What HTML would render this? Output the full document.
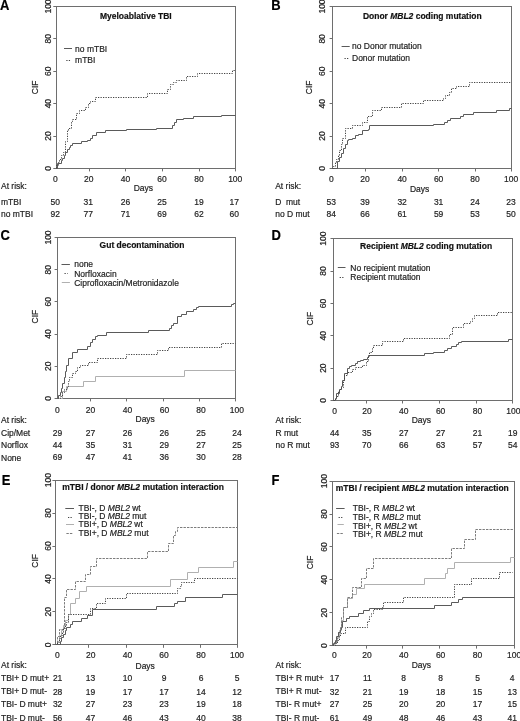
<!DOCTYPE html>
<html><head><meta charset="utf-8"><title>CIF figure</title>
<style>
html,body{margin:0;padding:0;background:#fff;overflow:hidden;}
svg{display:block;}
#fig{width:520px;height:721px;filter:grayscale(1);}
svg text{font-family:"Liberation Sans",sans-serif;font-size:8.5px;fill:#222222;stroke:#222222;stroke-width:0.18px;}
</style></head>
<body>
<div id="fig">
<svg width="520" height="721" viewBox="0 0 520 721">
<rect width="520" height="721" fill="#fff"/>
<text transform="translate(-0.1 9.6) scale(1 1.09)" font-weight="bold" style="font-size:13px;fill:#000;stroke:#000">A</text>
<rect x="56.5" y="6.5" width="179" height="162" fill="none" stroke="#6e6e6e" stroke-width="1"/>
<line x1="53.3" y1="168.5" x2="56.3" y2="168.5" stroke="#6e6e6e" stroke-width="1"/>
<text transform="translate(47.5 168.4) rotate(-90) scale(1 1.15)" text-anchor="middle" y="3.04">0</text>
<line x1="53.3" y1="136.5" x2="56.3" y2="136.5" stroke="#6e6e6e" stroke-width="1"/>
<text transform="translate(47.5 136.02) rotate(-90) scale(1 1.15)" text-anchor="middle" y="3.04">20</text>
<line x1="53.3" y1="103.5" x2="56.3" y2="103.5" stroke="#6e6e6e" stroke-width="1"/>
<text transform="translate(47.5 103.64) rotate(-90) scale(1 1.15)" text-anchor="middle" y="3.04">40</text>
<line x1="53.3" y1="71.5" x2="56.3" y2="71.5" stroke="#6e6e6e" stroke-width="1"/>
<text transform="translate(47.5 71.26) rotate(-90) scale(1 1.15)" text-anchor="middle" y="3.04">60</text>
<line x1="53.3" y1="38.5" x2="56.3" y2="38.5" stroke="#6e6e6e" stroke-width="1"/>
<text transform="translate(47.5 38.88) rotate(-90) scale(1 1.15)" text-anchor="middle" y="3.04">80</text>
<line x1="53.3" y1="6.5" x2="56.3" y2="6.5" stroke="#6e6e6e" stroke-width="1"/>
<text transform="translate(47.5 6.5) rotate(-90) scale(1 1.15)" text-anchor="middle" y="3.04">100</text>
<text transform="translate(34.9 87.3) rotate(-90) scale(1 1.15)" text-anchor="middle" y="3.1">CIF</text>
<line x1="89.5" y1="168.4" x2="89.5" y2="171.4" stroke="#6e6e6e" stroke-width="1"/>
<line x1="125.5" y1="168.4" x2="125.5" y2="171.4" stroke="#6e6e6e" stroke-width="1"/>
<line x1="162.5" y1="168.4" x2="162.5" y2="171.4" stroke="#6e6e6e" stroke-width="1"/>
<line x1="199.5" y1="168.4" x2="199.5" y2="171.4" stroke="#6e6e6e" stroke-width="1"/>
<line x1="235.5" y1="168.4" x2="235.5" y2="171.4" stroke="#6e6e6e" stroke-width="1"/>
<text transform="translate(55.4 182.34) scale(1 1.08)" text-anchor="middle">0</text>
<text transform="translate(88.7 182.34) scale(1 1.08)" text-anchor="middle">20</text>
<text transform="translate(125.4 182.34) scale(1 1.08)" text-anchor="middle">40</text>
<text transform="translate(162 182.34) scale(1 1.08)" text-anchor="middle">60</text>
<text transform="translate(198.9 182.34) scale(1 1.08)" text-anchor="middle">80</text>
<text transform="translate(235.2 182.34) scale(1 1.08)" text-anchor="middle">100</text>
<text transform="translate(143.4 190.8) scale(1 1.08)" text-anchor="middle">Days</text>
<text transform="translate(100 18.5) scale(1 1.08)" font-weight="bold" style="fill:#111;stroke:#111">Myeloablative TBI</text>
<line x1="64" y1="48.5" x2="72" y2="48.5" stroke="#5a5a5a" stroke-width="1"/>
<text transform="translate(75.1 51.8) scale(1 1.08)">no mTBI</text>
<line x1="66.3" y1="60.5" x2="70.3" y2="60.5" stroke="#444444" stroke-width="1" stroke-dasharray="1.25 1.25"/>
<text transform="translate(75.1 63.2) scale(1 1.08)">mTBI</text>
<path d="M56.5 168.5H57.5V163.5H61.5V160.5H62.5V158.5H64.5V155.5H65.5V152.5H67.5V149.5H69.5V147.5H70.5V145.5H72.5V143.5H81.5V141.5H87.5V140.5H90.5V138.5H92.5V135.5H96.5V132.5H105.5V130.5H126.5V129.5H156.5V128.5H172.5V125.5H174.5V122.5H176.5V119.5H183.5V118.5H193.5V116.5H221.5V115.5H235.5" fill="none" stroke="#5a5a5a" stroke-width="1"/>
<path d="M56.5 168.5H56.5V165.5H58.5V162.5H59.5V159.5H61.5V155.5H63.5V152.5H65.5V141.5H67.5V130.5H68.5V128.5H71.5V121.5H72.5V119.5H76.5V113.5H79.5V110.5H85.5V107.5H88.5V103.5H90.5V101.5H95.5V97.5H147.5V93.5H167.5V89.5H170.5V84.5H173.5V82.5H176.5V80.5H186.5V76.5H197.5V73.5H232.5V70.5H235.5" fill="none" stroke="#444444" stroke-width="1" stroke-dasharray="1.25 1.25"/>
<text transform="translate(1 188.5) scale(1 1.08)">At risk:</text>
<text transform="translate(1 205) scale(1 1.08)" xml:space="preserve">mTBI</text>
<text transform="translate(55.2 204.84) scale(1 1.08)" text-anchor="middle">50</text>
<text transform="translate(88.3 204.84) scale(1 1.08)" text-anchor="middle">31</text>
<text transform="translate(125.4 204.84) scale(1 1.08)" text-anchor="middle">26</text>
<text transform="translate(162 204.84) scale(1 1.08)" text-anchor="middle">25</text>
<text transform="translate(198.9 204.84) scale(1 1.08)" text-anchor="middle">19</text>
<text transform="translate(234.2 204.84) scale(1 1.08)" text-anchor="middle">17</text>
<text transform="translate(1 217) scale(1 1.08)" xml:space="preserve">no mTBI</text>
<text transform="translate(55.2 217.14) scale(1 1.08)" text-anchor="middle">92</text>
<text transform="translate(88.3 217.14) scale(1 1.08)" text-anchor="middle">77</text>
<text transform="translate(125.4 217.14) scale(1 1.08)" text-anchor="middle">71</text>
<text transform="translate(162 217.14) scale(1 1.08)" text-anchor="middle">69</text>
<text transform="translate(198.9 217.14) scale(1 1.08)" text-anchor="middle">62</text>
<text transform="translate(234.2 217.14) scale(1 1.08)" text-anchor="middle">60</text>
<text transform="translate(271.2 9.7) scale(1 1.09)" font-weight="bold" style="font-size:13px;fill:#000;stroke:#000">B</text>
<rect x="332.5" y="6.5" width="179" height="162" fill="none" stroke="#6e6e6e" stroke-width="1"/>
<line x1="329.6" y1="168.5" x2="332.6" y2="168.5" stroke="#6e6e6e" stroke-width="1"/>
<text transform="translate(321 168.5) rotate(-90) scale(1 1.15)" text-anchor="middle" y="3.04">0</text>
<line x1="329.6" y1="136.5" x2="332.6" y2="136.5" stroke="#6e6e6e" stroke-width="1"/>
<text transform="translate(321 136.1) rotate(-90) scale(1 1.15)" text-anchor="middle" y="3.04">20</text>
<line x1="329.6" y1="103.5" x2="332.6" y2="103.5" stroke="#6e6e6e" stroke-width="1"/>
<text transform="translate(321 103.7) rotate(-90) scale(1 1.15)" text-anchor="middle" y="3.04">40</text>
<line x1="329.6" y1="71.5" x2="332.6" y2="71.5" stroke="#6e6e6e" stroke-width="1"/>
<text transform="translate(321 71.3) rotate(-90) scale(1 1.15)" text-anchor="middle" y="3.04">60</text>
<line x1="329.6" y1="38.5" x2="332.6" y2="38.5" stroke="#6e6e6e" stroke-width="1"/>
<text transform="translate(321 38.9) rotate(-90) scale(1 1.15)" text-anchor="middle" y="3.04">80</text>
<line x1="329.6" y1="6.5" x2="332.6" y2="6.5" stroke="#6e6e6e" stroke-width="1"/>
<text transform="translate(321 6.5) rotate(-90) scale(1 1.15)" text-anchor="middle" y="3.04">100</text>
<text transform="translate(308.3 87.3) rotate(-90) scale(1 1.15)" text-anchor="middle" y="3.1">CIF</text>
<line x1="365.5" y1="168.5" x2="365.5" y2="171.5" stroke="#6e6e6e" stroke-width="1"/>
<line x1="402.5" y1="168.5" x2="402.5" y2="171.5" stroke="#6e6e6e" stroke-width="1"/>
<line x1="438.5" y1="168.5" x2="438.5" y2="171.5" stroke="#6e6e6e" stroke-width="1"/>
<line x1="475.5" y1="168.5" x2="475.5" y2="171.5" stroke="#6e6e6e" stroke-width="1"/>
<line x1="511.5" y1="168.5" x2="511.5" y2="171.5" stroke="#6e6e6e" stroke-width="1"/>
<text transform="translate(331.3 182.44) scale(1 1.08)" text-anchor="middle">0</text>
<text transform="translate(365 182.44) scale(1 1.08)" text-anchor="middle">20</text>
<text transform="translate(402.1 182.44) scale(1 1.08)" text-anchor="middle">40</text>
<text transform="translate(438.6 182.44) scale(1 1.08)" text-anchor="middle">60</text>
<text transform="translate(475 182.44) scale(1 1.08)" text-anchor="middle">80</text>
<text transform="translate(511.1 182.44) scale(1 1.08)" text-anchor="middle">100</text>
<text transform="translate(419.6 192) scale(1 1.08)" text-anchor="middle">Days</text>
<text transform="translate(362.9 18.5) scale(1 1.08)" font-weight="bold" style="fill:#111;stroke:#111">Donor <tspan font-style="italic" font-weight="bold">MBL2</tspan> coding mutation</text>
<line x1="341.6" y1="46.5" x2="349.7" y2="46.5" stroke="#5a5a5a" stroke-width="1"/>
<text transform="translate(352 48.9) scale(1 1.08)">no Donor mutation</text>
<line x1="344.5" y1="58.5" x2="348.5" y2="58.5" stroke="#444444" stroke-width="1" stroke-dasharray="1.25 1.25"/>
<text transform="translate(352 61.1) scale(1 1.08)">Donor mutation</text>
<path d="M332.5 168.5H337.5V161.5H339.5V157.5H341.5V153.5H343.5V148.5H345.5V144.5H347.5V140.5H348.5V139.5H352.5V138.5H355.5V135.5H358.5V134.5H362.5V130.5H368.5V129.5H369.5V125.5H433.5V124.5H444.5V122.5H447.5V120.5H450.5V118.5H460.5V116.5H463.5V114.5H473.5V112.5H496.5V110.5H509.5V108.5H511.5" fill="none" stroke="#5a5a5a" stroke-width="1"/>
<path d="M332.5 168.5H333.5V166.5H335.5V162.5H336.5V159.5H338.5V155.5H339.5V150.5H341.5V144.5H342.5V138.5H345.5V128.5H352.5V125.5H362.5V122.5H367.5V116.5H372.5V110.5H381.5V107.5H401.5V103.5H423.5V100.5H443.5V98.5H445.5V95.5H449.5V92.5H451.5V88.5H456.5V86.5H469.5V82.5H511.5" fill="none" stroke="#444444" stroke-width="1" stroke-dasharray="1.25 1.25"/>
<text transform="translate(275.2 189.2) scale(1 1.08)">At risk:</text>
<text transform="translate(275.2 204.5) scale(1 1.08)" xml:space="preserve">D  mut</text>
<text transform="translate(331.3 204.54) scale(1 1.08)" text-anchor="middle">53</text>
<text transform="translate(365 204.54) scale(1 1.08)" text-anchor="middle">39</text>
<text transform="translate(402.1 204.54) scale(1 1.08)" text-anchor="middle">32</text>
<text transform="translate(438.6 204.54) scale(1 1.08)" text-anchor="middle">31</text>
<text transform="translate(475 204.54) scale(1 1.08)" text-anchor="middle">24</text>
<text transform="translate(511 204.54) scale(1 1.08)" text-anchor="middle">23</text>
<text transform="translate(275.2 216.8) scale(1 1.08)" xml:space="preserve">no D mut</text>
<text transform="translate(331.3 216.64) scale(1 1.08)" text-anchor="middle">84</text>
<text transform="translate(365 216.64) scale(1 1.08)" text-anchor="middle">66</text>
<text transform="translate(402.1 216.64) scale(1 1.08)" text-anchor="middle">61</text>
<text transform="translate(438.6 216.64) scale(1 1.08)" text-anchor="middle">59</text>
<text transform="translate(475 216.64) scale(1 1.08)" text-anchor="middle">53</text>
<text transform="translate(511 216.64) scale(1 1.08)" text-anchor="middle">50</text>
<text transform="translate(0.6 239.8) scale(1 1.09)" font-weight="bold" style="font-size:13px;fill:#000;stroke:#000">C</text>
<rect x="57.5" y="237.5" width="178" height="161" fill="none" stroke="#6e6e6e" stroke-width="1"/>
<line x1="54.6" y1="398.5" x2="57.6" y2="398.5" stroke="#6e6e6e" stroke-width="1"/>
<text transform="translate(47.4 398.4) rotate(-90) scale(1 1.15)" text-anchor="middle" y="3.04">0</text>
<line x1="54.6" y1="366.5" x2="57.6" y2="366.5" stroke="#6e6e6e" stroke-width="1"/>
<text transform="translate(47.4 366.22) rotate(-90) scale(1 1.15)" text-anchor="middle" y="3.04">20</text>
<line x1="54.6" y1="334.5" x2="57.6" y2="334.5" stroke="#6e6e6e" stroke-width="1"/>
<text transform="translate(47.4 334.04) rotate(-90) scale(1 1.15)" text-anchor="middle" y="3.04">40</text>
<line x1="54.6" y1="301.5" x2="57.6" y2="301.5" stroke="#6e6e6e" stroke-width="1"/>
<text transform="translate(47.4 301.86) rotate(-90) scale(1 1.15)" text-anchor="middle" y="3.04">60</text>
<line x1="54.6" y1="269.5" x2="57.6" y2="269.5" stroke="#6e6e6e" stroke-width="1"/>
<text transform="translate(47.4 269.68) rotate(-90) scale(1 1.15)" text-anchor="middle" y="3.04">80</text>
<line x1="54.6" y1="237.5" x2="57.6" y2="237.5" stroke="#6e6e6e" stroke-width="1"/>
<text transform="translate(47.4 237.5) rotate(-90) scale(1 1.15)" text-anchor="middle" y="3.04">100</text>
<text transform="translate(34.9 316.6) rotate(-90) scale(1 1.15)" text-anchor="middle" y="3.1">CIF</text>
<line x1="90.5" y1="398.4" x2="90.5" y2="401.4" stroke="#6e6e6e" stroke-width="1"/>
<line x1="126.5" y1="398.4" x2="126.5" y2="401.4" stroke="#6e6e6e" stroke-width="1"/>
<line x1="163.5" y1="398.4" x2="163.5" y2="401.4" stroke="#6e6e6e" stroke-width="1"/>
<line x1="199.5" y1="398.4" x2="199.5" y2="401.4" stroke="#6e6e6e" stroke-width="1"/>
<line x1="235.5" y1="398.4" x2="235.5" y2="401.4" stroke="#6e6e6e" stroke-width="1"/>
<text transform="translate(57.4 412.84) scale(1 1.08)" text-anchor="middle">0</text>
<text transform="translate(90.5 412.84) scale(1 1.08)" text-anchor="middle">20</text>
<text transform="translate(127.4 412.84) scale(1 1.08)" text-anchor="middle">40</text>
<text transform="translate(164.4 412.84) scale(1 1.08)" text-anchor="middle">60</text>
<text transform="translate(201 412.84) scale(1 1.08)" text-anchor="middle">80</text>
<text transform="translate(236.9 412.84) scale(1 1.08)" text-anchor="middle">100</text>
<text transform="translate(145.2 421.8) scale(1 1.08)" text-anchor="middle">Days</text>
<text transform="translate(99.6 248.1) scale(1 1.08)" font-weight="bold" style="fill:#111;stroke:#111">Gut decontamination</text>
<line x1="61.5" y1="264.5" x2="69.9" y2="264.5" stroke="#5a5a5a" stroke-width="1"/>
<text transform="translate(74.2 266.7) scale(1 1.08)">none</text>
<line x1="64.5" y1="273.5" x2="67.6" y2="273.5" stroke="#444444" stroke-width="1" stroke-dasharray="1.25 1.25"/>
<text transform="translate(74.2 276.9) scale(1 1.08)">Norfloxacin</text>
<line x1="61.8" y1="282.5" x2="69.9" y2="282.5" stroke="#b0b0b0" stroke-width="1"/>
<text transform="translate(74.2 285.7) scale(1 1.08)">Ciprofloxacin/Metronidazole</text>
<path d="M57.5 398.5H62.5V391.5H66.5V386.5H83.5V381.5H95.5V376.5H184.5V370.5H235.5" fill="none" stroke="#b0b0b0" stroke-width="1"/>
<path d="M57.5 398.5H60.5V396.5H62.5V392.5H64.5V389.5H67.5V386.5H68.5V381.5H69.5V377.5H72.5V373.5H75.5V371.5H77.5V367.5H80.5V365.5H88.5V362.5H97.5V358.5H126.5V354.5H157.5V350.5H168.5V347.5H221.5V343.5H235.5" fill="none" stroke="#444444" stroke-width="1" stroke-dasharray="1.25 1.25"/>
<path d="M57.5 398.5H58.5V395.5H60.5V392.5H61.5V388.5H62.5V383.5H64.5V377.5H65.5V371.5H66.5V365.5H68.5V358.5H72.5V352.5H77.5V349.5H87.5V346.5H90.5V342.5H92.5V339.5H95.5V336.5H97.5V335.5H106.5V332.5H148.5V330.5H169.5V328.5H171.5V325.5H173.5V323.5H177.5V316.5H181.5V314.5H186.5V311.5H193.5V309.5H196.5V307.5H198.5V306.5H231.5V304.5H233.5V303.5H235.5" fill="none" stroke="#5a5a5a" stroke-width="1"/>
<text transform="translate(1 423) scale(1 1.08)">At risk:</text>
<text transform="translate(1 435.9) scale(1 1.08)" xml:space="preserve">Cip/Met</text>
<text transform="translate(57.4 435.74) scale(1 1.08)" text-anchor="middle">29</text>
<text transform="translate(90.5 435.74) scale(1 1.08)" text-anchor="middle">27</text>
<text transform="translate(127.4 435.74) scale(1 1.08)" text-anchor="middle">26</text>
<text transform="translate(164.3 435.74) scale(1 1.08)" text-anchor="middle">26</text>
<text transform="translate(201 435.74) scale(1 1.08)" text-anchor="middle">25</text>
<text transform="translate(237 435.74) scale(1 1.08)" text-anchor="middle">24</text>
<text transform="translate(1 448.4) scale(1 1.08)" xml:space="preserve">Norflox</text>
<text transform="translate(57.4 448.24) scale(1 1.08)" text-anchor="middle">44</text>
<text transform="translate(90.5 448.24) scale(1 1.08)" text-anchor="middle">35</text>
<text transform="translate(127.4 448.24) scale(1 1.08)" text-anchor="middle">31</text>
<text transform="translate(164.3 448.24) scale(1 1.08)" text-anchor="middle">29</text>
<text transform="translate(201 448.24) scale(1 1.08)" text-anchor="middle">27</text>
<text transform="translate(237 448.24) scale(1 1.08)" text-anchor="middle">25</text>
<text transform="translate(1 460.6) scale(1 1.08)" xml:space="preserve">None</text>
<text transform="translate(57.4 460.24) scale(1 1.08)" text-anchor="middle">69</text>
<text transform="translate(90.5 460.24) scale(1 1.08)" text-anchor="middle">47</text>
<text transform="translate(127.4 460.24) scale(1 1.08)" text-anchor="middle">41</text>
<text transform="translate(164.3 460.24) scale(1 1.08)" text-anchor="middle">36</text>
<text transform="translate(201 460.24) scale(1 1.08)" text-anchor="middle">30</text>
<text transform="translate(237 460.24) scale(1 1.08)" text-anchor="middle">28</text>
<text transform="translate(271.4 239.9) scale(1 1.09)" font-weight="bold" style="font-size:13px;fill:#000;stroke:#000">D</text>
<rect x="333.5" y="238.5" width="179" height="162" fill="none" stroke="#6e6e6e" stroke-width="1"/>
<line x1="330.5" y1="400.5" x2="333.5" y2="400.5" stroke="#6e6e6e" stroke-width="1"/>
<text transform="translate(322.9 400.5) rotate(-90) scale(1 1.15)" text-anchor="middle" y="3.04">0</text>
<line x1="330.5" y1="368.5" x2="333.5" y2="368.5" stroke="#6e6e6e" stroke-width="1"/>
<text transform="translate(322.9 368.14) rotate(-90) scale(1 1.15)" text-anchor="middle" y="3.04">20</text>
<line x1="330.5" y1="335.5" x2="333.5" y2="335.5" stroke="#6e6e6e" stroke-width="1"/>
<text transform="translate(322.9 335.78) rotate(-90) scale(1 1.15)" text-anchor="middle" y="3.04">40</text>
<line x1="330.5" y1="303.5" x2="333.5" y2="303.5" stroke="#6e6e6e" stroke-width="1"/>
<text transform="translate(322.9 303.42) rotate(-90) scale(1 1.15)" text-anchor="middle" y="3.04">60</text>
<line x1="330.5" y1="271.5" x2="333.5" y2="271.5" stroke="#6e6e6e" stroke-width="1"/>
<text transform="translate(322.9 271.06) rotate(-90) scale(1 1.15)" text-anchor="middle" y="3.04">80</text>
<line x1="330.5" y1="238.5" x2="333.5" y2="238.5" stroke="#6e6e6e" stroke-width="1"/>
<text transform="translate(322.9 238.7) rotate(-90) scale(1 1.15)" text-anchor="middle" y="3.04">100</text>
<text transform="translate(309.9 318.7) rotate(-90) scale(1 1.15)" text-anchor="middle" y="3.1">CIF</text>
<line x1="366.5" y1="400.5" x2="366.5" y2="403.5" stroke="#6e6e6e" stroke-width="1"/>
<line x1="402.5" y1="400.5" x2="402.5" y2="403.5" stroke="#6e6e6e" stroke-width="1"/>
<line x1="439.5" y1="400.5" x2="439.5" y2="403.5" stroke="#6e6e6e" stroke-width="1"/>
<line x1="476.5" y1="400.5" x2="476.5" y2="403.5" stroke="#6e6e6e" stroke-width="1"/>
<line x1="512.5" y1="400.5" x2="512.5" y2="403.5" stroke="#6e6e6e" stroke-width="1"/>
<text transform="translate(334.5 413.84) scale(1 1.08)" text-anchor="middle">0</text>
<text transform="translate(366.9 413.84) scale(1 1.08)" text-anchor="middle">20</text>
<text transform="translate(403.7 413.84) scale(1 1.08)" text-anchor="middle">40</text>
<text transform="translate(440.6 413.84) scale(1 1.08)" text-anchor="middle">60</text>
<text transform="translate(477.5 413.84) scale(1 1.08)" text-anchor="middle">80</text>
<text transform="translate(513.3 413.84) scale(1 1.08)" text-anchor="middle">100</text>
<text transform="translate(421.4 422.9) scale(1 1.08)" text-anchor="middle">Days</text>
<text transform="translate(360.1 249.4) scale(1 1.08)" font-weight="bold" style="fill:#111;stroke:#111">Recipient <tspan font-style="italic" font-weight="bold">MBL2</tspan> coding mutation</text>
<line x1="337.8" y1="267.5" x2="345.5" y2="267.5" stroke="#5a5a5a" stroke-width="1"/>
<text transform="translate(350.3 270.5) scale(1 1.08)">No recipient mutation</text>
<line x1="339.7" y1="277.5" x2="343.6" y2="277.5" stroke="#444444" stroke-width="1" stroke-dasharray="1.25 1.25"/>
<text transform="translate(350.3 280.3) scale(1 1.08)">Recipient mutation</text>
<path d="M333.5 400.5H335.5V398.5H336.5V393.5H339.5V389.5H341.5V386.5H342.5V380.5H344.5V373.5H347.5V368.5H349.5V366.5H351.5V365.5H355.5V363.5H357.5V361.5H360.5V360.5H363.5V359.5H367.5V357.5H368.5V355.5H424.5V353.5H433.5V352.5H444.5V350.5H447.5V348.5H451.5V346.5H456.5V344.5H458.5V342.5H461.5V341.5H508.5V339.5H512.5" fill="none" stroke="#5a5a5a" stroke-width="1"/>
<path d="M333.5 400.5H334.5V399.5H336.5V396.5H338.5V391.5H339.5V389.5H341.5V387.5H343.5V380.5H344.5V375.5H347.5V372.5H352.5V369.5H355.5V367.5H362.5V365.5H366.5V361.5H368.5V356.5H369.5V352.5H372.5V348.5H373.5V345.5H382.5V341.5H403.5V338.5H449.5V334.5H452.5V327.5H463.5V323.5H470.5V321.5H472.5V318.5H474.5V315.5H497.5V312.5H512.5" fill="none" stroke="#444444" stroke-width="1" stroke-dasharray="1.25 1.25"/>
<text transform="translate(275.5 423) scale(1 1.08)">At risk:</text>
<text transform="translate(275.5 435.5) scale(1 1.08)" xml:space="preserve">R mut</text>
<text transform="translate(334.6 435.84) scale(1 1.08)" text-anchor="middle">44</text>
<text transform="translate(366.8 435.84) scale(1 1.08)" text-anchor="middle">35</text>
<text transform="translate(403.7 435.84) scale(1 1.08)" text-anchor="middle">27</text>
<text transform="translate(440.6 435.84) scale(1 1.08)" text-anchor="middle">27</text>
<text transform="translate(477.5 435.84) scale(1 1.08)" text-anchor="middle">21</text>
<text transform="translate(512.7 435.84) scale(1 1.08)" text-anchor="middle">19</text>
<text transform="translate(275.5 448.3) scale(1 1.08)" xml:space="preserve">no R mut</text>
<text transform="translate(334.6 448.44) scale(1 1.08)" text-anchor="middle">93</text>
<text transform="translate(366.8 448.44) scale(1 1.08)" text-anchor="middle">70</text>
<text transform="translate(403.7 448.44) scale(1 1.08)" text-anchor="middle">66</text>
<text transform="translate(440.6 448.44) scale(1 1.08)" text-anchor="middle">63</text>
<text transform="translate(477.5 448.44) scale(1 1.08)" text-anchor="middle">57</text>
<text transform="translate(512.7 448.44) scale(1 1.08)" text-anchor="middle">54</text>
<text transform="translate(1.7 484.9) scale(1 1.09)" font-weight="bold" style="font-size:13px;fill:#000;stroke:#000">E</text>
<rect x="55.5" y="480.5" width="182" height="164" fill="none" stroke="#6e6e6e" stroke-width="1"/>
<line x1="52.4" y1="644.5" x2="55.4" y2="644.5" stroke="#6e6e6e" stroke-width="1"/>
<text transform="translate(47.5 644.8) rotate(-90) scale(1 1.15)" text-anchor="middle" y="3.04">0</text>
<line x1="52.4" y1="611.5" x2="55.4" y2="611.5" stroke="#6e6e6e" stroke-width="1"/>
<text transform="translate(47.5 611.88) rotate(-90) scale(1 1.15)" text-anchor="middle" y="3.04">20</text>
<line x1="52.4" y1="578.5" x2="55.4" y2="578.5" stroke="#6e6e6e" stroke-width="1"/>
<text transform="translate(47.5 578.96) rotate(-90) scale(1 1.15)" text-anchor="middle" y="3.04">40</text>
<line x1="52.4" y1="546.5" x2="55.4" y2="546.5" stroke="#6e6e6e" stroke-width="1"/>
<text transform="translate(47.5 546.04) rotate(-90) scale(1 1.15)" text-anchor="middle" y="3.04">60</text>
<line x1="52.4" y1="513.5" x2="55.4" y2="513.5" stroke="#6e6e6e" stroke-width="1"/>
<text transform="translate(47.5 513.12) rotate(-90) scale(1 1.15)" text-anchor="middle" y="3.04">80</text>
<line x1="52.4" y1="480.5" x2="55.4" y2="480.5" stroke="#6e6e6e" stroke-width="1"/>
<text transform="translate(47.5 480.2) rotate(-90) scale(1 1.15)" text-anchor="middle" y="3.04">100</text>
<text transform="translate(34.8 560.9) rotate(-90) scale(1 1.15)" text-anchor="middle" y="3.1">CIF</text>
<line x1="88.5" y1="644.8" x2="88.5" y2="647.8" stroke="#6e6e6e" stroke-width="1"/>
<line x1="126.5" y1="644.8" x2="126.5" y2="647.8" stroke="#6e6e6e" stroke-width="1"/>
<line x1="163.5" y1="644.8" x2="163.5" y2="647.8" stroke="#6e6e6e" stroke-width="1"/>
<line x1="200.5" y1="644.8" x2="200.5" y2="647.8" stroke="#6e6e6e" stroke-width="1"/>
<line x1="237.5" y1="644.8" x2="237.5" y2="647.8" stroke="#6e6e6e" stroke-width="1"/>
<text transform="translate(57.4 658.04) scale(1 1.08)" text-anchor="middle">0</text>
<text transform="translate(90.8 658.04) scale(1 1.08)" text-anchor="middle">20</text>
<text transform="translate(127.4 658.04) scale(1 1.08)" text-anchor="middle">40</text>
<text transform="translate(164 658.04) scale(1 1.08)" text-anchor="middle">60</text>
<text transform="translate(201 658.04) scale(1 1.08)" text-anchor="middle">80</text>
<text transform="translate(237 658.04) scale(1 1.08)" text-anchor="middle">100</text>
<text transform="translate(145.2 669.1) scale(1 1.08)" text-anchor="middle">Days</text>
<text transform="translate(62.3 490.2) scale(1 1.08)" font-weight="bold" style="fill:#111;stroke:#111">mTBI / donor <tspan font-style="italic" font-weight="bold">MBL2</tspan> mutation interaction</text>
<line x1="65.3" y1="508.5" x2="74" y2="508.5" stroke="#5a5a5a" stroke-width="1"/>
<text transform="translate(78.5 511) scale(1 1.08)">TBI-, D <tspan font-style="italic">MBL2</tspan> wt</text>
<line x1="68" y1="517.5" x2="72" y2="517.5" stroke="#444444" stroke-width="1" stroke-dasharray="1.25 1.25"/>
<text transform="translate(78.5 518.8) scale(1 1.08)">TBI-, D <tspan font-style="italic">MBL2</tspan> mut</text>
<line x1="66" y1="524.5" x2="74" y2="524.5" stroke="#b0b0b0" stroke-width="1"/>
<text transform="translate(78.5 527.3) scale(1 1.08)">TBI+, D <tspan font-style="italic">MBL2</tspan> wt</text>
<line x1="66.4" y1="533.5" x2="73.1" y2="533.5" stroke="#7c7c7c" stroke-width="1" stroke-dasharray="2.4 1.1"/>
<text transform="translate(78.5 535.9) scale(1 1.08)">TBI+, D <tspan font-style="italic">MBL2</tspan> mut</text>
<path d="M55.5 644.5H57.5V641.5H59.5V636.5H61.5V630.5H63.5V625.5H65.5V620.5H68.5V614.5H70.5V603.5H75.5V598.5H79.5V591.5H86.5V586.5H170.5V579.5H187.5V572.5H198.5V567.5H233.5V561.5H237.5" fill="none" stroke="#b0b0b0" stroke-width="1"/>
<path d="M55.5 644.5H57.5V636.5H59.5V629.5H64.5V597.5H66.5V589.5H75.5V581.5H85.5V574.5H90.5V566.5H96.5V558.5H147.5V551.5H168.5V543.5H173.5V535.5H175.5V531.5H177.5V527.5H237.5" fill="none" stroke="#7c7c7c" stroke-width="1" stroke-dasharray="2.4 1.1"/>
<path d="M55.5 644.5H57.5V642.5H59.5V638.5H60.5V635.5H62.5V632.5H63.5V628.5H65.5V625.5H66.5V622.5H68.5V614.5H90.5V608.5H96.5V603.5H105.5V598.5H126.5V593.5H177.5V588.5H180.5V586.5H181.5V582.5H194.5V578.5H237.5" fill="none" stroke="#444444" stroke-width="1" stroke-dasharray="1.25 1.25"/>
<path d="M55.5 644.5H60.5V641.5H61.5V637.5H63.5V634.5H65.5V630.5H66.5V627.5H70.5V624.5H72.5V621.5H81.5V618.5H87.5V615.5H92.5V609.5H156.5V606.5H174.5V603.5H177.5V601.5H185.5V597.5H222.5V594.5H237.5" fill="none" stroke="#5a5a5a" stroke-width="1"/>
<text transform="translate(1 668.4) scale(1 1.08)">At risk:</text>
<text transform="translate(1 681.3) scale(1 1.08)" xml:space="preserve">TBI+ D mut+</text>
<text transform="translate(57.6 681.34) scale(1 1.08)" text-anchor="middle">21</text>
<text transform="translate(90.5 681.34) scale(1 1.08)" text-anchor="middle">13</text>
<text transform="translate(127.4 681.34) scale(1 1.08)" text-anchor="middle">10</text>
<text transform="translate(164 681.34) scale(1 1.08)" text-anchor="middle">9</text>
<text transform="translate(201 681.34) scale(1 1.08)" text-anchor="middle">6</text>
<text transform="translate(237 681.34) scale(1 1.08)" text-anchor="middle">5</text>
<text transform="translate(1 694.4) scale(1 1.08)" xml:space="preserve">TBI+ D mut-</text>
<text transform="translate(57.6 694.54) scale(1 1.08)" text-anchor="middle">28</text>
<text transform="translate(90.5 694.54) scale(1 1.08)" text-anchor="middle">19</text>
<text transform="translate(127.4 694.54) scale(1 1.08)" text-anchor="middle">17</text>
<text transform="translate(164 694.54) scale(1 1.08)" text-anchor="middle">17</text>
<text transform="translate(201 694.54) scale(1 1.08)" text-anchor="middle">14</text>
<text transform="translate(237 694.54) scale(1 1.08)" text-anchor="middle">12</text>
<text transform="translate(1 707) scale(1 1.08)" xml:space="preserve">TBI- D mut+</text>
<text transform="translate(57.6 707.34) scale(1 1.08)" text-anchor="middle">32</text>
<text transform="translate(90.5 707.34) scale(1 1.08)" text-anchor="middle">27</text>
<text transform="translate(127.4 707.34) scale(1 1.08)" text-anchor="middle">23</text>
<text transform="translate(164 707.34) scale(1 1.08)" text-anchor="middle">23</text>
<text transform="translate(201 707.34) scale(1 1.08)" text-anchor="middle">19</text>
<text transform="translate(237 707.34) scale(1 1.08)" text-anchor="middle">18</text>
<text transform="translate(1 720.7) scale(1 1.08)" xml:space="preserve">TBI- D mut-</text>
<text transform="translate(57.6 720.64) scale(1 1.08)" text-anchor="middle">56</text>
<text transform="translate(90.5 720.64) scale(1 1.08)" text-anchor="middle">47</text>
<text transform="translate(127.4 720.64) scale(1 1.08)" text-anchor="middle">46</text>
<text transform="translate(164 720.64) scale(1 1.08)" text-anchor="middle">43</text>
<text transform="translate(201 720.64) scale(1 1.08)" text-anchor="middle">40</text>
<text transform="translate(237 720.64) scale(1 1.08)" text-anchor="middle">38</text>
<text transform="translate(271.4 485.1) scale(1 1.09)" font-weight="bold" style="font-size:13px;fill:#000;stroke:#000">F</text>
<rect x="332.5" y="481.5" width="182" height="164" fill="none" stroke="#6e6e6e" stroke-width="1"/>
<line x1="329.5" y1="645.5" x2="332.5" y2="645.5" stroke="#6e6e6e" stroke-width="1"/>
<text transform="translate(323 645.6) rotate(-90) scale(1 1.15)" text-anchor="middle" y="3.04">0</text>
<line x1="329.5" y1="612.5" x2="332.5" y2="612.5" stroke="#6e6e6e" stroke-width="1"/>
<text transform="translate(323 612.72) rotate(-90) scale(1 1.15)" text-anchor="middle" y="3.04">20</text>
<line x1="329.5" y1="579.5" x2="332.5" y2="579.5" stroke="#6e6e6e" stroke-width="1"/>
<text transform="translate(323 579.84) rotate(-90) scale(1 1.15)" text-anchor="middle" y="3.04">40</text>
<line x1="329.5" y1="546.5" x2="332.5" y2="546.5" stroke="#6e6e6e" stroke-width="1"/>
<text transform="translate(323 546.96) rotate(-90) scale(1 1.15)" text-anchor="middle" y="3.04">60</text>
<line x1="329.5" y1="514.5" x2="332.5" y2="514.5" stroke="#6e6e6e" stroke-width="1"/>
<text transform="translate(323 514.08) rotate(-90) scale(1 1.15)" text-anchor="middle" y="3.04">80</text>
<line x1="329.5" y1="481.5" x2="332.5" y2="481.5" stroke="#6e6e6e" stroke-width="1"/>
<text transform="translate(323 481.2) rotate(-90) scale(1 1.15)" text-anchor="middle" y="3.04">100</text>
<text transform="translate(309.8 562.5) rotate(-90) scale(1 1.15)" text-anchor="middle" y="3.1">CIF</text>
<line x1="366.5" y1="645.6" x2="366.5" y2="648.6" stroke="#6e6e6e" stroke-width="1"/>
<line x1="402.5" y1="645.6" x2="402.5" y2="648.6" stroke="#6e6e6e" stroke-width="1"/>
<line x1="439.5" y1="645.6" x2="439.5" y2="648.6" stroke="#6e6e6e" stroke-width="1"/>
<line x1="476.5" y1="645.6" x2="476.5" y2="648.6" stroke="#6e6e6e" stroke-width="1"/>
<line x1="514.5" y1="645.6" x2="514.5" y2="648.6" stroke="#6e6e6e" stroke-width="1"/>
<text transform="translate(334.3 658.14) scale(1 1.08)" text-anchor="middle">0</text>
<text transform="translate(366.9 658.14) scale(1 1.08)" text-anchor="middle">20</text>
<text transform="translate(403.7 658.14) scale(1 1.08)" text-anchor="middle">40</text>
<text transform="translate(440.6 658.14) scale(1 1.08)" text-anchor="middle">60</text>
<text transform="translate(477.5 658.14) scale(1 1.08)" text-anchor="middle">80</text>
<text transform="translate(514.1 658.14) scale(1 1.08)" text-anchor="middle">100</text>
<text transform="translate(421.4 667.7) scale(1 1.08)" text-anchor="middle">Days</text>
<text transform="translate(335.8 491.2) scale(1 1.08)" font-weight="bold" style="fill:#111;stroke:#111">mTBI / recipient <tspan font-style="italic" font-weight="bold">MBL2</tspan> mutation interaction</text>
<line x1="336.1" y1="508.5" x2="344.6" y2="508.5" stroke="#5a5a5a" stroke-width="1"/>
<text transform="translate(352.7 511.2) scale(1 1.08)">TBI-, R <tspan font-style="italic">MBL2</tspan> wt</text>
<line x1="338.6" y1="517.5" x2="342.7" y2="517.5" stroke="#444444" stroke-width="1" stroke-dasharray="1.25 1.25"/>
<text transform="translate(352.7 520) scale(1 1.08)">TBI-, R <tspan font-style="italic">MBL2</tspan> mut</text>
<line x1="337.5" y1="524.5" x2="343.8" y2="524.5" stroke="#b0b0b0" stroke-width="1"/>
<text transform="translate(352.7 528.5) scale(1 1.08)">TBI+, R <tspan font-style="italic">MBL2</tspan> wt</text>
<line x1="336.9" y1="533.5" x2="343.8" y2="533.5" stroke="#7c7c7c" stroke-width="1" stroke-dasharray="2.4 1.1"/>
<text transform="translate(352.7 536.8) scale(1 1.08)">TBI+, R <tspan font-style="italic">MBL2</tspan> mut</text>
<path d="M332.5 645.5H334.5V642.5H337.5V636.5H339.5V630.5H341.5V620.5H343.5V607.5H347.5V598.5H352.5V594.5H356.5V588.5H364.5V584.5H424.5V578.5H445.5V573.5H447.5V568.5H454.5V562.5H510.5V557.5H514.5" fill="none" stroke="#b0b0b0" stroke-width="1"/>
<path d="M332.5 645.5H334.5V642.5H336.5V638.5H338.5V632.5H340.5V627.5H341.5V617.5H343.5V607.5H347.5V597.5H352.5V587.5H361.5V578.5H366.5V568.5H373.5V558.5H451.5V548.5H464.5V539.5H475.5V529.5H514.5" fill="none" stroke="#7c7c7c" stroke-width="1" stroke-dasharray="2.4 1.1"/>
<path d="M332.5 645.5H335.5V643.5H337.5V640.5H339.5V636.5H340.5V633.5H345.5V627.5H367.5V621.5H369.5V616.5H371.5V613.5H373.5V609.5H382.5V607.5H383.5V602.5H403.5V597.5H454.5V584.5H471.5V578.5H499.5V572.5H512.5" fill="none" stroke="#444444" stroke-width="1" stroke-dasharray="1.25 1.25"/>
<path d="M332.5 645.5H333.5V643.5H335.5V640.5H336.5V636.5H338.5V632.5H340.5V629.5H341.5V627.5H342.5V621.5H346.5V618.5H349.5V616.5H358.5V613.5H363.5V610.5H369.5V608.5H434.5V605.5H451.5V602.5H458.5V599.5H462.5V597.5H514.5" fill="none" stroke="#5a5a5a" stroke-width="1"/>
<text transform="translate(275.5 667.5) scale(1 1.08)">At risk:</text>
<text transform="translate(275.5 681.2) scale(1 1.08)" xml:space="preserve">TBI+ R mut+</text>
<text transform="translate(334.4 681.34) scale(1 1.08)" text-anchor="middle">17</text>
<text transform="translate(367.4 681.34) scale(1 1.08)" text-anchor="middle">11</text>
<text transform="translate(403.7 681.34) scale(1 1.08)" text-anchor="middle">8</text>
<text transform="translate(440.6 681.34) scale(1 1.08)" text-anchor="middle">8</text>
<text transform="translate(477.5 681.34) scale(1 1.08)" text-anchor="middle">5</text>
<text transform="translate(512.2 681.34) scale(1 1.08)" text-anchor="middle">4</text>
<text transform="translate(275.5 694.3) scale(1 1.08)" xml:space="preserve">TBI+ R mut-</text>
<text transform="translate(334.4 694.64) scale(1 1.08)" text-anchor="middle">32</text>
<text transform="translate(367.4 694.64) scale(1 1.08)" text-anchor="middle">21</text>
<text transform="translate(403.7 694.64) scale(1 1.08)" text-anchor="middle">19</text>
<text transform="translate(440.6 694.64) scale(1 1.08)" text-anchor="middle">18</text>
<text transform="translate(477.5 694.64) scale(1 1.08)" text-anchor="middle">15</text>
<text transform="translate(512.2 694.64) scale(1 1.08)" text-anchor="middle">13</text>
<text transform="translate(275.5 707.2) scale(1 1.08)" xml:space="preserve">TBI- R mut+</text>
<text transform="translate(334.4 707.44) scale(1 1.08)" text-anchor="middle">27</text>
<text transform="translate(367.4 707.44) scale(1 1.08)" text-anchor="middle">25</text>
<text transform="translate(403.7 707.44) scale(1 1.08)" text-anchor="middle">20</text>
<text transform="translate(440.6 707.44) scale(1 1.08)" text-anchor="middle">20</text>
<text transform="translate(477.5 707.44) scale(1 1.08)" text-anchor="middle">17</text>
<text transform="translate(512.2 707.44) scale(1 1.08)" text-anchor="middle">15</text>
<text transform="translate(275.5 720.6) scale(1 1.08)" xml:space="preserve">TBI- R mut-</text>
<text transform="translate(334.4 720.94) scale(1 1.08)" text-anchor="middle">61</text>
<text transform="translate(367.4 720.94) scale(1 1.08)" text-anchor="middle">49</text>
<text transform="translate(403.7 720.94) scale(1 1.08)" text-anchor="middle">48</text>
<text transform="translate(440.6 720.94) scale(1 1.08)" text-anchor="middle">46</text>
<text transform="translate(477.5 720.94) scale(1 1.08)" text-anchor="middle">43</text>
<text transform="translate(512.2 720.94) scale(1 1.08)" text-anchor="middle">41</text>
</svg>
</div>
</body></html>
